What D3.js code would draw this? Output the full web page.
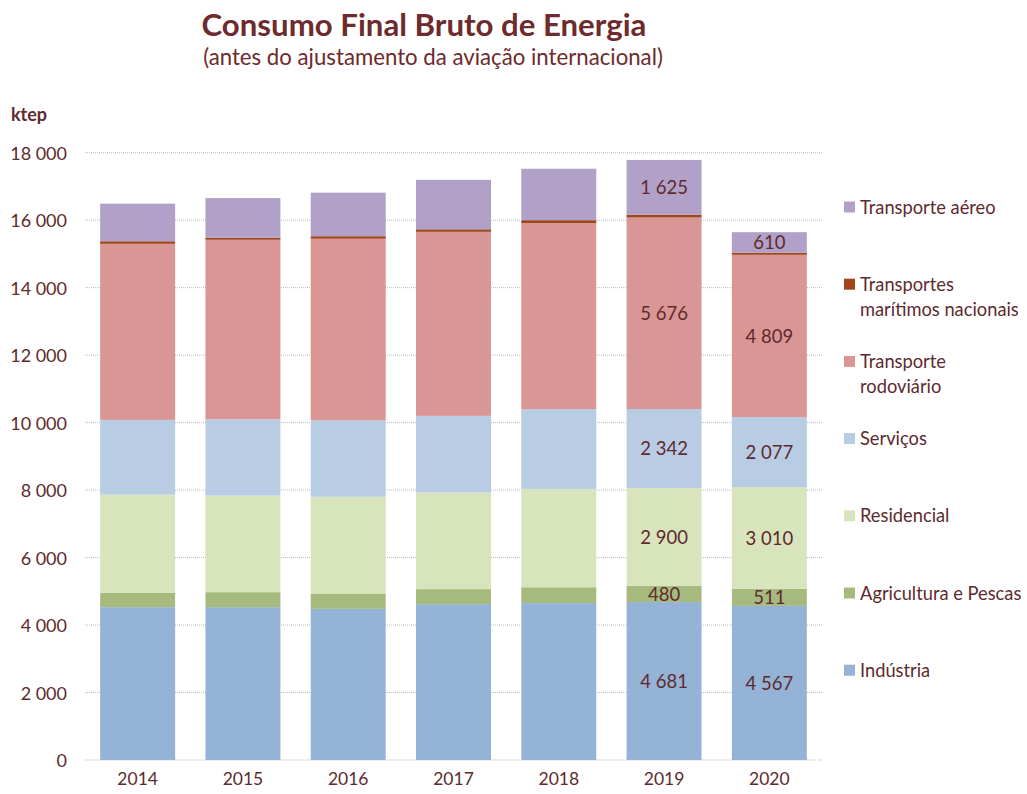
<!DOCTYPE html>
<html>
<head>
<meta charset="utf-8">
<script src="https://cdn.jsdelivr.net/npm/d3@7"></script>
<style>
  html, body { margin: 0; padding: 0; background: #ffffff; }
  svg { display: block; }
  text { font-family: Lato, "Open Sans", "Liberation Sans", sans-serif; }
</style>
</head>
<body>
<svg id="chart" width="1027" height="794"></svg>
<script>
// ---------- DATA ----------
const years = ["2014", "2015", "2016", "2017", "2018", "2019", "2020"];
const seriesNames = ["Indústria", "Agricultura e Pescas", "Residencial", "Serviços",
  "Transporte rodoviário", "Transportes marítimos nacionais", "Transporte aéreo"];
const industria   = [4530, 4530, 4480, 4620, 4650, 4681, 4567];
const agricultura = [430, 445, 440, 445, 470, 480, 511];
const residencial = [2905, 2860, 2880, 2860, 2915, 2900, 3010];
const servicos    = [2215, 2265, 2270, 2275, 2365, 2342, 2077];
const rodoviario  = [5220, 5320, 5380, 5455, 5515, 5676, 4809];
const maritimos   = [75, 60, 75, 75, 85, 80, 60];
const aereo       = [1115, 1175, 1290, 1465, 1525, 1625, 610];
const yTicks = [0, 2000, 4000, 6000, 8000, 10000, 12000, 14000, 16000, 18000];
const labelledYears = ["2019", "2020"];
const legendLabels = [
  ["Transporte aéreo"],
  ["Transportes", "marítimos nacionais"],
  ["Transporte", "rodoviário"],
  ["Serviços"],
  ["Residencial"],
  ["Agricultura e Pescas"],
  ["Indústria"]
];

// ---------- STYLE ----------
const seriesValues = [industria, agricultura, residencial, servicos, rodoviario, maritimos, aereo];
const colors = ["#95B3D7", "#A6BA7E", "#D8E4BC", "#B8CCE4", "#DA9694", "#A0461A", "#B1A0C7"];
const textColor = "#5E2A2E";
const titleColor = "#6E2A2C";

const svg = d3.select("#chart");

const table = years.map((y, i) => {
  const row = { year: y };
  seriesNames.forEach((s, k) => row[s] = seriesValues[k][i]);
  return row;
});
const stacked = d3.stack().keys(seriesNames)(table);

const x = d3.scaleBand().domain(years).range([85, 822]).paddingInner(0.288).paddingOuter(0.144);
const y = d3.scaleLinear().domain([0, 18000]).range([760, 152.7]);

const fmt = v => d3.format(",")(v).replace(/,/g, " ");

// gridlines
svg.append("g").selectAll("line").data(yTicks).join("line")
  .attr("x1", 85).attr("x2", 822)
  .attr("y1", d => y(d)).attr("y2", d => y(d))
  .attr("stroke", "#BDBDBD").attr("stroke-width", 1).attr("stroke-dasharray", "1,1");

// y axis labels
const yAxis = d3.axisLeft(y).tickValues(yTicks).tickSize(0).tickPadding(0).tickFormat(fmt);
const gy = svg.append("g").attr("transform", "translate(67,0)").call(yAxis);
gy.select(".domain").remove();
gy.selectAll("text").attr("font-size", 18).attr("fill", textColor)
  .style("font-family", "Lato, 'Open Sans', sans-serif").attr("dy", "0.36em");

// x axis labels
const xAxis = d3.axisBottom(x).tickSize(0).tickPadding(0);
const gx = svg.append("g").attr("transform", "translate(0,779)").call(xAxis);
gx.select(".domain").remove();
gx.selectAll("text").attr("font-size", 17.5).attr("fill", textColor)
  .style("font-family", "Lato, 'Open Sans', sans-serif").attr("dy", "0.36em");

// bars
const layers = svg.append("g").selectAll("g").data(stacked).join("g")
  .attr("fill", (d, i) => colors[i]);
layers.selectAll("rect").data(d => d).join("rect")
  .attr("x", d => x(d.data.year))
  .attr("width", x.bandwidth())
  .attr("y", d => y(d[1]))
  .attr("height", d => y(d[0]) - y(d[1]));

// data labels
const labelLayers = svg.append("g").selectAll("g")
  .data(stacked.filter(s => s.key !== "Transportes marítimos nacionais")).join("g");
labelLayers.selectAll("text")
  .data(d => d.filter(p => labelledYears.includes(p.data.year)))
  .join("text")
  .attr("x", d => x(d.data.year) + x.bandwidth() / 2)
  .attr("y", d => (y(d[0]) + y(d[1])) / 2)
  .attr("dy", "0.36em")
  .attr("text-anchor", "middle")
  .attr("font-size", 18.5)
  .attr("fill", textColor)
  .text(d => fmt(d[1] - d[0]));

// legend (top to bottom = reverse stack order)
const legendTop = 207, legendStep = 77.2;
const lg = svg.append("g");
legendLabels.forEach((lines, i) => {
  const idx = seriesNames.length - 1 - i;
  const cy = legendTop + i * legendStep;
  lg.append("rect").attr("x", 844).attr("y", cy - 5.5).attr("width", 11).attr("height", 11)
    .attr("fill", colors[idx]);
  lines.forEach((ln, j) => {
    lg.append("text").attr("x", 860).attr("y", cy + j * 25).attr("dy", "0.36em")
      .attr("font-size", 18.3).attr("fill", textColor).text(ln);
  });
});

// ktep
svg.append("text").attr("x", 11).attr("y", 121).attr("font-size", 18)
  .attr("font-weight", "bold").attr("fill", textColor).text("ktep");

// titles
function fitText(sel, target) {
  const w = sel.node().getComputedTextLength();
  const fs = parseFloat(sel.attr("font-size"));
  sel.attr("font-size", fs * target / w);
}
const title = svg.append("text").attr("x", 424).attr("y", 36).attr("text-anchor", "middle")
  .attr("font-size", 28).attr("font-weight", "bold").attr("fill", titleColor)
  .text("Consumo Final Bruto de Energia");
fitText(title, 445);
const sub = svg.append("text").attr("x", 433).attr("y", 65).attr("text-anchor", "middle")
  .attr("font-size", 21).attr("fill", titleColor)
  .text("(antes do ajustamento da aviação internacional)");
fitText(sub, 460);
</script>
</body>
</html>
